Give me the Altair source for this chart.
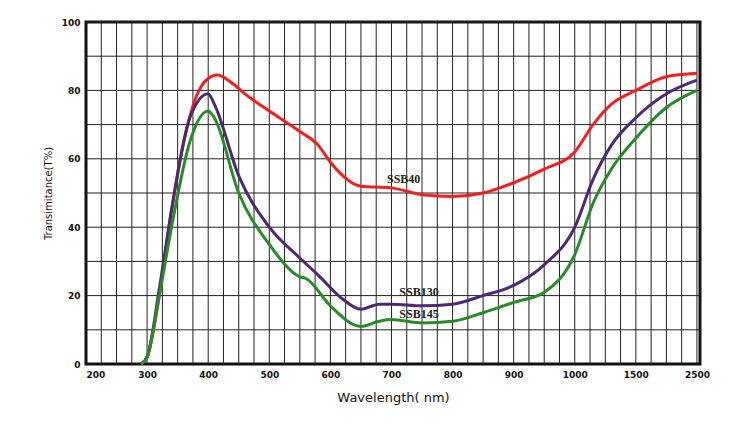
import altair as alt
import pandas as pd

red_w = [290, 300, 320, 340, 360, 380, 400, 415, 440, 460, 500, 550, 580, 600, 650, 700, 750, 800, 850, 900, 950, 1000, 1150, 1300, 1500, 2000, 2500]
red_t = [0, 2, 20, 45, 65, 78, 83.5, 84.5, 82, 79, 74, 68, 64, 59, 52, 51.5, 49.5, 49, 50, 53, 57, 62, 70, 76, 80, 84, 85]

pur_w = [290, 300, 320, 340, 370, 400, 410, 450, 500, 550, 580, 620, 650, 680, 700, 750, 800, 850, 900, 950, 1000, 1150, 1300, 1500, 2000, 2500]
pur_t = [0, 2, 22, 45, 72, 79, 76, 55, 40, 31, 26, 19, 16, 17.5, 17.5, 17, 17.5, 20, 23, 29, 40, 54, 64, 72, 79, 83]

grn_w = [290, 300, 320, 340, 370, 400, 410, 450, 500, 550, 560, 600, 650, 680, 700, 750, 800, 850, 900, 950, 1000, 1150, 1300, 1500, 2000, 2500]
grn_t = [0, 2, 20, 40, 65, 74, 72, 50, 35, 25.5, 25, 17, 11, 12.5, 13, 12, 12.5, 15, 18, 21, 32, 47, 57, 66, 75, 80]

names = ['SSB40', 'SSB130', 'SSB145']
colors = ['#f02020', '#4a2a70', '#2a8a2a']
label_w = [720, 745, 745]
label_t = [54, 21, 14.6]

tick_labels = ['200', '300', '400', '500', '600', '700', '800', '900', '1000', '1500', '2500']

rows = []
for n, ws, ts in zip(names, [red_w, pur_w, grn_w], [red_t, pur_t, grn_t]):
    for w, t in zip(ws, ts):
        rows.append({'series': n, 'w': w, 't': t})
df = pd.DataFrame(rows)
lab = pd.DataFrame({'series': names, 'w': label_w, 't': label_t})

pos = ("datum.w <= 1000 ? (datum.w - 200) / 100 : "
       "(datum.w <= 1500 ? 8 + (datum.w - 1000) / 500 : 9 + (datum.w - 1500) / 1000)")

xgrid = pd.DataFrame({'g': [i * 0.25 for i in range(1, 41)]})
ygrid = pd.DataFrame({'g': list(range(10, 101, 10))})
label_expr = str(tick_labels) + "[datum.value]"

xs = alt.Scale(domain=[0, 10.05], nice=False)
ys = alt.Scale(domain=[0, 100])
x = alt.X('pos:Q', scale=xs,
          axis=alt.Axis(values=list(range(11)), labelExpr=label_expr, title='Wavelength( nm)',
                        grid=False, ticks=False,
                        labelFontSize=9, labelFontWeight='bold', titleFontSize=13,
                        titleFontWeight='normal', labelPadding=6, titlePadding=12))
y = alt.Y('t:Q', scale=ys,
          axis=alt.Axis(values=list(range(0, 101, 10)), title='Transimitance(T%)',
                        grid=False, ticks=False,
                        labelFontSize=9, labelFontWeight='bold', titleFontSize=10,
                        titleFontWeight='normal', labelPadding=6, titlePadding=8))

vgrid = alt.Chart(xgrid).mark_rule(color='#222', strokeWidth=1).encode(x=alt.X('g:Q', scale=xs))
hgrid = alt.Chart(ygrid).mark_rule(color='#222', strokeWidth=1).encode(y=alt.Y('g:Q', scale=ys))

color = alt.Color('series:N', scale=alt.Scale(domain=names, range=colors), legend=None)

lines = alt.Chart(df).transform_calculate(pos=pos).mark_line(
    interpolate='monotone', strokeWidth=3).encode(x=x, y=y, color=color, detail='series:N')

texts = alt.Chart(lab).transform_calculate(pos=pos).mark_text(
    font='Liberation Serif', fontWeight='bold', fontSize=12, color='#222').encode(
    x='pos:Q', y='t:Q', text='series:N')

chart = (vgrid + hgrid + lines + texts).properties(
    width=614, height=342,
    autosize=alt.AutoSizeParams(type='none'),
    padding={'left': 78, 'top': 14, 'right': 30, 'bottom': 60},
).configure_view(stroke='#111', strokeWidth=3).configure_axis(
    domain=False, labelColor='#111', titleColor='#111', labelFont='DejaVu Sans', titleFont='DejaVu Sans')

chart.save("out.html", embed_options={"renderer": "svg", "actions": False})
